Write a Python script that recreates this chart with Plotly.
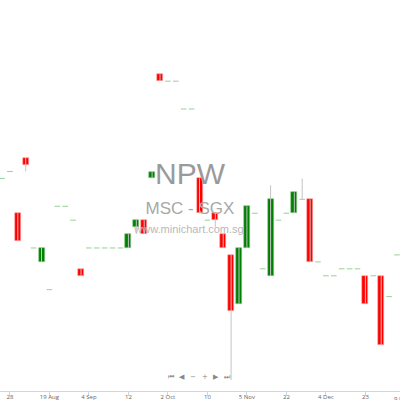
import plotly.graph_objects as go

# ---- data (daily candles, index order) ----
opens = [0.049, 0.050, 0.044, 0.052, 0.039, 0.037, 0.033, 0.045, 0.045, 0.043,
         0.036, 0.039, 0.039, 0.039, 0.039, 0.039, 0.039, 0.042, 0.043, 0.049,
         0.064, 0.063, 0.063, 0.059, 0.059, 0.049, 0.043, 0.044, 0.041, 0.038,
         0.031, 0.039, 0.044, 0.036, 0.035, 0.043, 0.044, 0.044, 0.046, 0.046,
         0.037, 0.035, 0.035, 0.036, 0.036, 0.036, 0.035, 0.035, 0.035, 0.032,
         0.038]
closes = [0.049, 0.050, 0.040, 0.051, 0.039, 0.039, 0.033, 0.045, 0.045, 0.043,
          0.035, 0.039, 0.039, 0.039, 0.039, 0.039, 0.041, 0.043, 0.041, 0.050,
          0.063, 0.063, 0.063, 0.059, 0.059, 0.044, 0.043, 0.043, 0.039, 0.030,
          0.039, 0.045, 0.044, 0.036, 0.046, 0.043, 0.044, 0.047, 0.046, 0.037,
          0.037, 0.035, 0.035, 0.036, 0.036, 0.036, 0.031, 0.035, 0.025, 0.032,
          0.038]
highs = [max(o, c) for o, c in zip(opens, closes)]
lows = [min(o, c) for o, c in zip(opens, closes)]
highs[34] = 0.048
highs[38] = 0.049
lows[3] = 0.050
lows[17] = 0.041
lows[27] = 0.042
lows[29] = 0.020

tick_index = [1, 6, 11, 16, 21, 26, 31, 36, 41, 46]
tick_labels = ["28", "19 Aug", "4 Sep", "12", "2 Oct", "10", "5 Nov", "22", "4 Dec", "23"]
next_tick_index = 51
next_tick_label = "9 Jan"

title_text = "NPW"
sub_text = "MSC - SGX"
site_text = "www.minichart.com.sg"

# ---- layout constants ----
W, H = 400, 400
MB = 9
XR = [-0.253, 50.38]
YR = [0.01842, 0.07468]
PLOT_H = H - MB

def px_to_data(px, py):
    x = XR[0] + px / W * (XR[1] - XR[0])
    y = YR[1] - py / PLOT_H * (YR[1] - YR[0])
    return x, y

n = len(opens)

fig = go.Figure()

# watermark (below data)
for txt, (px, py), size, col in [
    (title_text, (190, 176), 30, "#9a9a9a"),
    (sub_text, (190, 210), 17, "#a8a8a8"),
    (site_text, (189, 230), 11, "#b8b8b8"),
]:
    x, y = px_to_data(px, py)
    fig.add_trace(go.Scatter(x=[x], y=[y], mode="text", text=[txt],
                             textfont=dict(family="Liberation Sans, Arial", size=size, color=col),
                             textposition="middle center", hoverinfo="skip",
                             showlegend=False, cliponaxis=False))

# wicks
wx, wy = [], []
for i in range(n):
    if highs[i] > lows[i]:
        wx += [i, i, None]
        wy += [lows[i], highs[i], None]
fig.add_trace(go.Scatter(x=wx, y=wy, mode="lines", line=dict(color="#c4c4c4", width=1),
                         hoverinfo="skip", showlegend=False))

# bodies
for up, col, edge in [(True, "#008000", "#8fc98f"), (False, "#ff0000", "#ffb0b0")]:
    bx, bb, bh = [], [], []
    for i in range(n):
        if opens[i] == closes[i]:
            continue
        if (closes[i] > opens[i]) == up:
            bx.append(i)
            bb.append(min(opens[i], closes[i]))
            bh.append(abs(closes[i] - opens[i]))
    fig.add_trace(go.Bar(x=bx, y=bh, base=bb, width=0.76,
                         marker=dict(color=col, line=dict(color=edge, width=0.6)),
                         showlegend=False, hoverinfo="skip"))

# flat (no-range body) days as dashes
dx = [i for i in range(n) if opens[i] == closes[i]]
dy = [opens[i] for i in dx]
fig.add_trace(go.Scatter(x=dx, y=dy, mode="markers",
                         marker=dict(symbol="line-ew", size=4,
                                     line=dict(color="#98d098", width=1)),
                         showlegend=False, hoverinfo="skip"))

annotations = []
# partially visible next tick label
annotations.append(dict(x=(next_tick_index - XR[0]) / (XR[1] - XR[0]), xref="paper",
                        xanchor="left", xshift=-13,
                        y=0, yref="paper", yanchor="top", yshift=-2,
                        text=next_tick_label, showarrow=False,
                        font=dict(family="Open Sans, Liberation Sans", size=6, color="#666666")))
# navigator buttons
for px, sym in [(171, "⏮"), (182, "◀"), (193, "−"), (205, "+"), (216, "▶"), (227, "⏭")]:
    annotations.append(dict(x=px / W, xref="paper", y=(PLOT_H - 383) / PLOT_H, yref="paper",
                            text=sym, showarrow=False,
                            font=dict(family="DejaVu Sans", size=7, color="#888888")))

fig.update_layout(
    width=W, height=H,
    margin=dict(l=0, r=0, t=0, b=MB, pad=0),
    paper_bgcolor="white", plot_bgcolor="white",
    barmode="overlay", bargap=0,
    annotations=annotations,
    xaxis=dict(range=XR, tickmode="array", tickvals=tick_index, ticktext=tick_labels,
               automargin=False, ticklabelstandoff=-4,
               showgrid=False, zeroline=False, showline=True, linecolor="#ccd6eb", linewidth=1,
               ticks="outside", ticklen=4, tickcolor="#ccd6eb",
               tickfont=dict(family="Open Sans, Liberation Sans", size=6, color="#666666"),
               fixedrange=True),
    yaxis=dict(range=YR, visible=False, fixedrange=True, automargin=False),
)

fig.write_html("out.html", config={"displayModeBar": False},
               post_script="document.body.style.margin='0';document.body.style.overflow='hidden';")
